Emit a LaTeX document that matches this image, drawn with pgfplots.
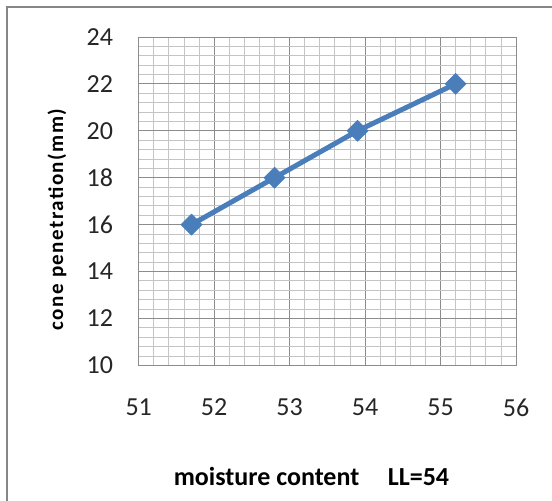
\documentclass[border=0pt]{standalone}
\usepackage{pgfplots}
\pgfplotsset{compat=1.18}
\usepackage{fontspec}
\setmainfont{Carlito}
\newfontfamily\ylabfont[LetterSpace=7]{Carlito}
\definecolor{serblue}{HTML}{4A7EBB}
\definecolor{framegray}{HTML}{868686}
\definecolor{majgrid}{HTML}{8C8C8C}
\definecolor{mingrid}{HTML}{C4C4C4}
\begin{document}
\begin{tikzpicture}
\path[use as bounding box] (0,0) rectangle (552pt,-501pt);
\clip (0,0) rectangle (552pt,-501pt);
\draw[framegray, line width=2pt] (7pt,-560pt) -- (7pt,-7pt) -- (600pt,-7pt);
\begin{axis}[
  at={(138.7pt,-365.3pt)}, anchor=south west,
  scale only axis, width=377.3pt, height=328.3pt,
  xmin=51, xmax=56, ymin=10, ymax=24,
  xtick={51,52,...,56}, ytick={10,12,...,24},
  minor x tick num=4, minor y tick num=4,
  grid=both,
  major grid style={majgrid, line width=1pt},
  minor grid style={mingrid, line width=0.8pt},
  axis line style={majgrid, line width=1pt},
  major tick length=0pt, minor tick length=0pt,
  /pgf/number format/assume math mode=true,
  tick label style={font=\fontsize{26}{30}\selectfont, text=black!85},
  yticklabel style={anchor=east, inner sep=0pt, xshift=-25.5pt},
  xticklabel style={anchor=north, inner sep=0pt, yshift=-33pt},
  xlabel={moisture content\hspace{1.1em}LL=54},
  xlabel style={at={(axis description cs:0.458,-0.3646)}, anchor=base, font=\bfseries\fontsize{26}{30}\selectfont, inner sep=0pt},
  ylabel={cone penetration(mm)},
  ylabel style={at={(axis description cs:-0.2165,0.444)}, anchor=center, inner sep=0pt, font=\ylabfont\bfseries\fontsize{21}{25}\selectfont},
]
\addplot[serblue, line width=5pt, line join=round, mark=square*, mark size=7.5pt, mark options={rotate=45, solid, fill=serblue, draw=serblue, line width=0.5pt}]
  coordinates {(51.7,16) (52.8,18) (53.9,20) (55.2,22)};
\end{axis}
\end{tikzpicture}
\end{document}
